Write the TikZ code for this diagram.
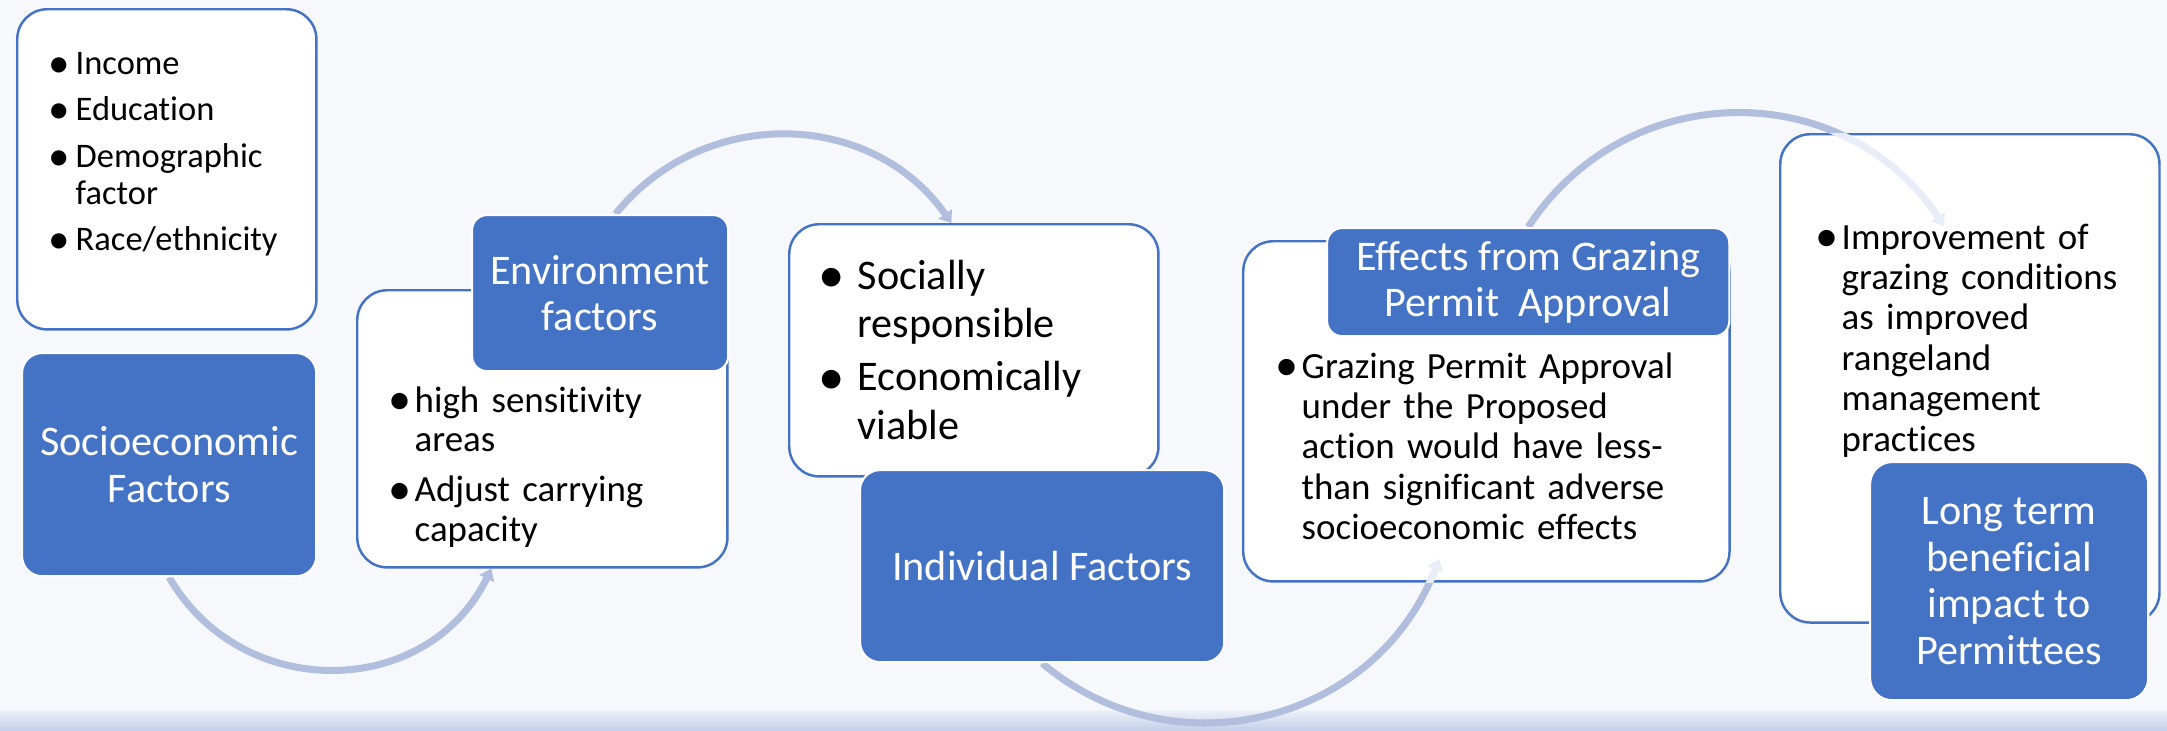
\documentclass[tikz,border=0pt]{standalone}
\usepackage{fontspec}
\setmainfont{Carlito}[Ligatures={NoCommon}]
\usetikzlibrary{arrows.meta}

\definecolor{boxblue}{HTML}{4472C4}
\definecolor{arccol}{HTML}{B1BEDE}
\definecolor{arclight}{HTML}{E9EDF7}
\definecolor{bgcol}{HTML}{F7F8FC}
\definecolor{bandtop}{HTML}{EDF1F8}
\definecolor{bandbot}{HTML}{C4CFEA}

\pgfdeclarelayer{back}
\pgfdeclarelayer{arcs}
\pgfsetlayers{back,arcs,main}

% bullet with hanging indent
\newcommand{\bpoint}[2]{\hangindent=#1\hangafter=1%
  \makebox[#1][l]{\hspace{-0.16em}\raisebox{-0.08em}{\scalebox{1.25}{\textbullet}}}#2\par}

\begin{document}
\begin{tikzpicture}[x=0.01cm, y=-0.01cm,
  whitebox/.style={draw=boxblue, line width=0.7pt, fill=white, rounded corners=0.3cm, anchor=north west, inner sep=0pt},
  bluebox/.style={draw=white, line width=0.6pt, fill=boxblue, rounded corners=0.2cm, anchor=north west, inner sep=0pt,
    text=white, align=center, font=\fontsize{12pt}{13.2pt}\selectfont},
  listtext/.style={anchor=base west, inner sep=0pt, align=left, font=\fontsize{10.5pt}{11.5pt}\selectfont},
  flowarc/.style={draw=arccol, line width=2pt, -{Triangle[width=0.16cm, length=0.11cm]}}]

   \useasboundingbox (0,0) rectangle (2167,730);
   \begin{pgfonlayer}{back}
     \fill[bgcol] (0,0) rectangle (2167,730);
     \shade[top color=bandtop, bottom color=bandbot] (0,710) rectangle (2167,730);
   \end{pgfonlayer}

   % boxes
   \path (16,8) node[whitebox, minimum width=2.99cm, minimum height=3.2cm] (incomebox) {};
   \path (21,352) node[bluebox, minimum width=2.94cm, minimum height=2.23cm] (sociobox) {Socioeconomic\\Factors};
   \path (356,289) node[whitebox, minimum width=3.7cm, minimum height=2.77cm] (envbox) {};
   \path (471,214) node[bluebox, rounded corners=0.15cm, minimum width=2.56cm, minimum height=1.56cm] (envblue) {Environment\\factors};
   \path (788,223) node[whitebox, minimum width=3.69cm, minimum height=2.52cm] (socialbox) {};
   \path (859,469) node[bluebox, minimum width=3.64cm, minimum height=1.92cm] (indivbox) {Individual Factors};
   \path (1242,240) node[whitebox, minimum width=4.86cm, minimum height=3.4cm] (effbox) {};
   \path (1326,227) node[bluebox, rounded corners=0.15cm, minimum width=4.02cm, minimum height=1.08cm] (effblue) {Effects from Grazing\\Permit\ \ Approval};
   \path (1779,133) node[whitebox, minimum width=3.79cm, minimum height=4.88cm] (improvebox) {};
   \path (1869,461) node[bluebox, rounded corners=0.22cm, minimum width=2.78cm, minimum height=2.38cm] (longbox) {Long term\\beneficial\\impact to\\Permittees};

   \coordinate (effarrow) at (1439,559);
   \coordinate (improvearrow) at (1944,226);

   % arcs
   \begin{pgfonlayer}{arcs}
     \draw[flowarc] (sociobox.south) .. controls +(73,126) and +(-64,131) .. (envbox.250);
     \draw[flowarc] (envblue.79) .. controls +(88,-109) and +(-80,-114) .. (socialbox.100);
     \draw[flowarc] (indivbox.south) .. controls +(133,112) and +(-62,163) .. (effarrow);
     \draw[flowarc] (effblue.north) .. controls +(99,-151) and +(-100,-150) .. (improvearrow);
   \end{pgfonlayer}

   % faded arrow ends inside the boxes
   \begin{scope}
     \clip (effbox.north west) rectangle (effbox.south east);
     \draw[flowarc, draw=arclight] (indivbox.south) .. controls +(133,112) and +(-62,163) .. (effarrow);
   \end{scope}
   \begin{scope}
     \clip (improvebox.north west) rectangle (improvebox.south east);
     \draw[flowarc, draw=arclight] (effblue.north) .. controls +(99,-151) and +(-100,-150) .. (improvearrow);
   \end{scope}

   % lists
   \path (53,74.5) node[listtext, text width=2.6cm, font=\fontsize{9.8pt}{10.5pt}\selectfont] (incometext)
   {\setlength{\parskip}{2.7pt}%
     \bpoint{0.22cm}{Income}
     \bpoint{0.22cm}{Education}
     \bpoint{0.22cm}{Demographic\newline factor}
     \bpoint{0.22cm}{Race/ethnicity}};
   \path (394,412) node[listtext, text width=3.1cm, font=\fontsize{10.5pt}{11.3pt}\selectfont] (envtext)
   {\setlength{\parskip}{2.85pt}%
     \bpoint{0.2cm}{high sensitivity\newline areas}
     \bpoint{0.2cm}{Adjust carrying\newline capacity}};
   \path (825,289) node[listtext, text width=3.1cm, font=\fontsize{12pt}{13.9pt}\selectfont] (socialtext)
   {\setlength{\parskip}{1.1pt}%
     \bpoint{0.32cm}{Socially\newline responsible}
     \bpoint{0.32cm}{Economically\newline viable}};
   \path (1281,378) node[listtext, text width=4.3cm] (efftext)
   {\bpoint{0.2cm}{Grazing Permit Approval\newline under the Proposed\newline action would have less-\newline than significant adverse\newline socioeconomic effects}};
   \path (1821,249) node[listtext, text width=3.3cm] (improvetext)
   {\bpoint{0.2cm}{Improvement of\newline grazing conditions\newline as improved\newline rangeland\newline management\newline practices}};
\end{tikzpicture}
\end{document}
